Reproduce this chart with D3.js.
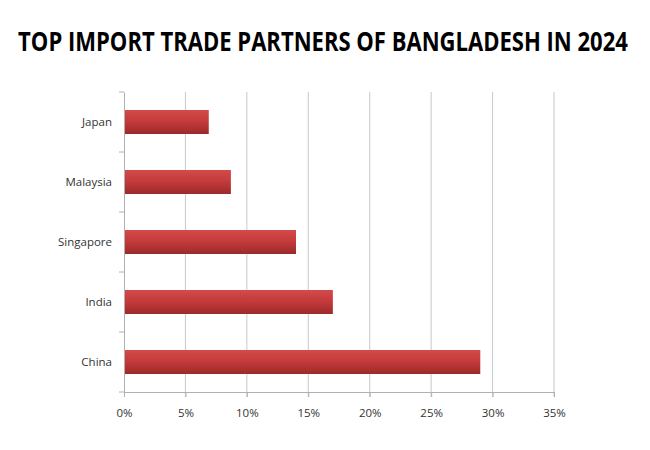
<!DOCTYPE html>
<html><head><meta charset="utf-8">
<script src="https://cdn.jsdelivr.net/npm/d3@7"></script>
<style>body{margin:0;background:#fff}</style>
</head><body>
<script>
const categories = ["Japan", "Malaysia", "Singapore", "India", "China"];
const shares = [6.9, 8.7, 14, 17, 29];
const tickValues = [0, 5, 10, 15, 20, 25, 30, 35];
const title = "TOP IMPORT TRADE PARTNERS OF BANGLADESH IN 2024";

const W = 650, H = 450;
const svg = d3.select("body").append("svg").attr("width", W).attr("height", H);
const m = {left: 124, right: 96, top: 92, bottom: 58};

const x = d3.scaleLinear().domain([0, 35]).range([m.left, W - m.right]);
const y = d3.scaleBand().domain(categories).range([m.top, H - m.bottom]).paddingInner(0.6).paddingOuter(0.3);

const defs = svg.append("defs");
const g = defs.append("linearGradient").attr("id", "barg").attr("x1", 0).attr("y1", 0).attr("x2", 0).attr("y2", 1);
g.append("stop").attr("offset", "0%").attr("stop-color", "#d24a4a");
g.append("stop").attr("offset", "45%").attr("stop-color", "#c63b3c");
g.append("stop").attr("offset", "100%").attr("stop-color", "#9c2a2a");

const tg = svg.append("g");
const tt = tg.append("text").attr("x", 0).attr("y", 0).attr("text-anchor", "middle")
  .attr("font-family", "Open Sans, sans-serif").attr("font-weight", "bold").attr("font-size", 26)
  .attr("fill", "#000").text(title);
const natural = tt.node().getComputedTextLength();
tg.attr("transform", `translate(323,51) scale(${610 / natural},1)`);

// gridlines
svg.append("g").selectAll("line").data(tickValues.slice(1)).join("line")
  .attr("x1", d => x(d)).attr("x2", d => x(d))
  .attr("y1", m.top).attr("y2", H - m.bottom + 5)
  .attr("stroke", "#c8c8c8").attr("stroke-width", 1);

// bars
svg.append("g").selectAll("rect").data(categories).join("rect")
  .attr("x", x(0)).attr("y", d => y(d))
  .attr("width", (d, i) => x(shares[i]) - x(0)).attr("height", y.bandwidth())
  .attr("fill", "url(#barg)");

// x axis
const xAxis = svg.append("g").attr("transform", `translate(0,${H - m.bottom})`)
  .call(d3.axisBottom(x).tickValues(tickValues).tickFormat(d => d + "%").tickSize(5).tickPadding(12));
xAxis.select(".domain").attr("stroke", "#b0b0b0");
xAxis.selectAll(".tick line").attr("stroke", "#b0b0b0");
xAxis.selectAll("text").attr("font-family", "Open Sans, sans-serif").attr("font-size", 11.5).attr("fill", "#333");

// y axis
const yAxis = svg.append("g").attr("transform", `translate(${m.left},0)`)
  .call(d3.axisLeft(y).tickSize(0).tickPadding(12));
yAxis.select(".domain").attr("stroke", "#b0b0b0");
yAxis.selectAll("text").attr("font-family", "Open Sans, sans-serif").attr("font-size", 11.5).attr("fill", "#333");
const step = y.step();
const bounds = d3.range(categories.length + 1).map(i => m.top + i * step);
yAxis.append("g").selectAll("line").data(bounds).join("line")
  .attr("x1", -5).attr("x2", 0).attr("y1", d => d).attr("y2", d => d)
  .attr("stroke", "#b0b0b0");
</script>
</body></html>
